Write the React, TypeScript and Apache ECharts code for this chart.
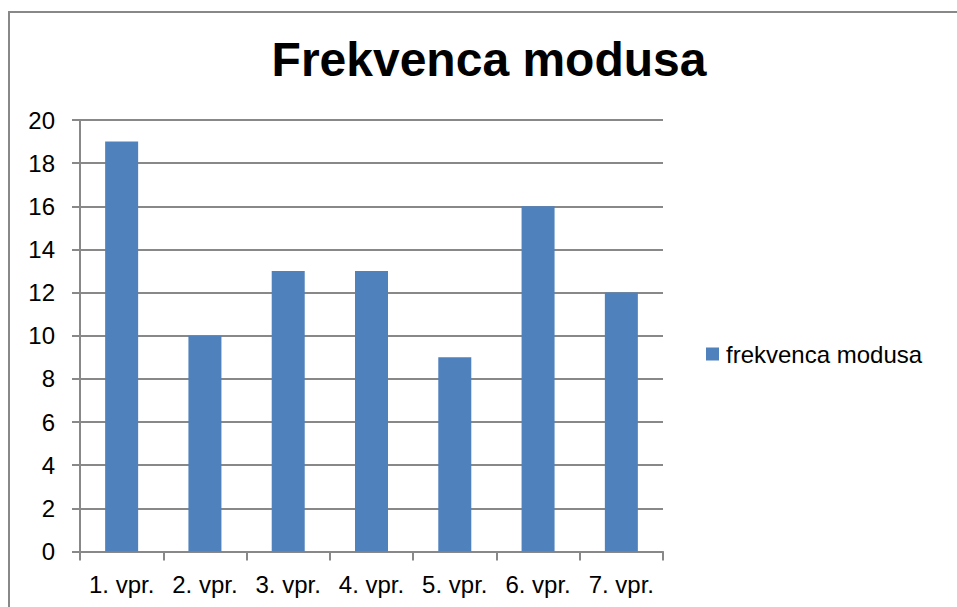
import React, { useEffect, useRef } from "react";
import * as echarts from "echarts";

const categories = ["1. vpr.", "2. vpr.", "3. vpr.", "4. vpr.", "5. vpr.", "6. vpr.", "7. vpr."];
const values = [19, 10, 13, 13, 9, 16, 12];
const seriesName = "frekvenca modusa";
const titleText = "Frekvenca modusa";

export default function App() {
  const ref = useRef<HTMLDivElement>(null);
  useEffect(() => {
    document.body.style.margin = "0";
    const chart = echarts.init(ref.current!, null, { renderer: "svg" });
    const font = "Liberation Sans, Arial, sans-serif";
    chart.setOption({
      animation: false,
      backgroundColor: "#ffffff",
      textStyle: { fontFamily: font },
      title: {
        text: titleText,
        left: 484,
        top: 30,
        textAlign: "center",
        textStyle: { fontSize: 48, fontWeight: "bold", color: "#000", fontFamily: font },
      },
      graphic: [
        {
          type: "rect",
          shape: { x: 9, y: 12, width: 960, height: 620 },
          style: { fill: "none", stroke: "#888888", lineWidth: 2 },
          z: 100,
        },
      ],
      legend: {
        left: 701,
        top: 337,
        itemWidth: 13,
        itemHeight: 13,
        itemGap: 0,
        icon: "rect",
        textStyle: { fontSize: 24, color: "#000", fontFamily: font, padding: [0, 0, 0, 2] },
        data: [seriesName],
      },
      grid: { left: 80, top: 120, width: 583, height: 431.5, containLabel: false },
      xAxis: {
        type: "category",
        data: categories,
        axisLine: { lineStyle: { color: "#888888", width: 2 } },
        axisTick: { show: true, length: 9, lineStyle: { color: "#888888", width: 2 } },
        axisLabel: { fontSize: 24, color: "#000", margin: 21, fontFamily: font, interval: 0 },
      },
      yAxis: {
        type: "value",
        min: 0,
        max: 20,
        interval: 2,
        axisLine: { show: true, lineStyle: { color: "#888888", width: 2 } },
        axisTick: { show: true, length: 8, lineStyle: { color: "#888888", width: 2 } },
        splitLine: { lineStyle: { color: "#888888", width: 2 } },
        axisLabel: { fontSize: 24, color: "#000", margin: 25, fontFamily: font },
      },
      series: [
        {
          name: seriesName,
          type: "bar",
          data: values,
          barWidth: 33,
          itemStyle: { color: "#4F81BD" },
        },
      ],
    });
    return () => chart.dispose();
  }, []);
  return <div ref={ref} style={{ width: 957, height: 607 }} />;
}
